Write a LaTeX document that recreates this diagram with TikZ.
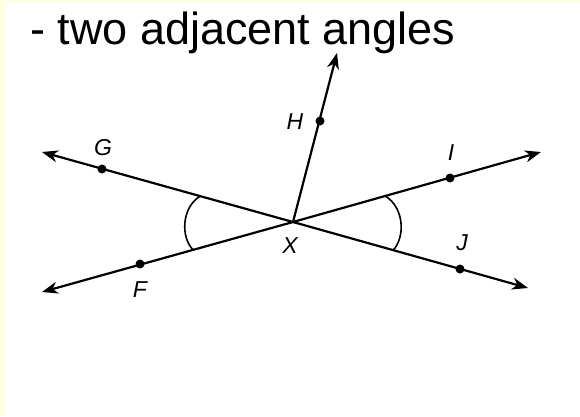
\documentclass[tikz,border=0pt]{standalone}
\usepackage{fontspec}
\setmainfont{Liberation Sans}
\usetikzlibrary{arrows.meta}
\definecolor{bgyellow}{RGB}{255,255,224}
\begin{document}
\begin{tikzpicture}[x=1pt,y=-1pt,
  ray/.style={line width=2.2pt, -{Stealth[length=16pt,width=12pt,inset=5pt]}},
  dot/.style={circle, fill=black, inner sep=0pt, minimum size=9pt},
  lbl/.style={font=\fontsize{23}{23}\selectfont\itshape, inner sep=0pt},
  anglearc/.style={line width=1.6pt}]
\useasboundingbox (0,0) rectangle (580,416);
\fill[bgyellow] (0,0) rectangle (580,416);
\fill[white] (5,2) rectangle (580,416);
\node[anchor=base west, inner sep=0pt, font=\fontsize{45}{50}\selectfont] (title) at (30,44) {- two adjacent angles};
% points
\coordinate (X) at (293,222);
\coordinate (Gtip) at (42,152);
\coordinate (Jtip) at (528,288);
\coordinate (Ftip) at (42,292);
\coordinate (Itip) at (541,152);
\coordinate (Htip) at (337,53);
% rays
\draw[ray] (X) -- (Gtip);
\draw[ray] (X) -- (Jtip);
\draw[ray] (X) -- (Ftip);
\draw[ray] (X) -- (Itip);
\draw[ray] (X) -- (Htip);
% dots
\node[dot] (G) at (102,169) {};
\node[dot] (J) at (460,269) {};
\node[dot] (F) at (140,264) {};
\node[dot] (I) at (450,178) {};
\node[dot] (H) at (320,121) {};
% labels
\node[lbl] (Glbl) at (103,148) {G};
\node[lbl] (Hlbl) at (295,122) {H};
\node[lbl] (Ilbl) at (451,153) {I};
\node[lbl] (Xlbl) at (290,246) {X};
\node[lbl] (Jlbl) at (462,243) {J};
\node[lbl] (Flbl) at (140,290) {F};
% angle marks
\draw[anglearc] (200,196.2) .. controls (181,208) and (181,238) .. (193,249.6);
\draw[anglearc] (385,195.8) .. controls (405,208) and (405,238) .. (393,250.3);
\end{tikzpicture}
\end{document}
